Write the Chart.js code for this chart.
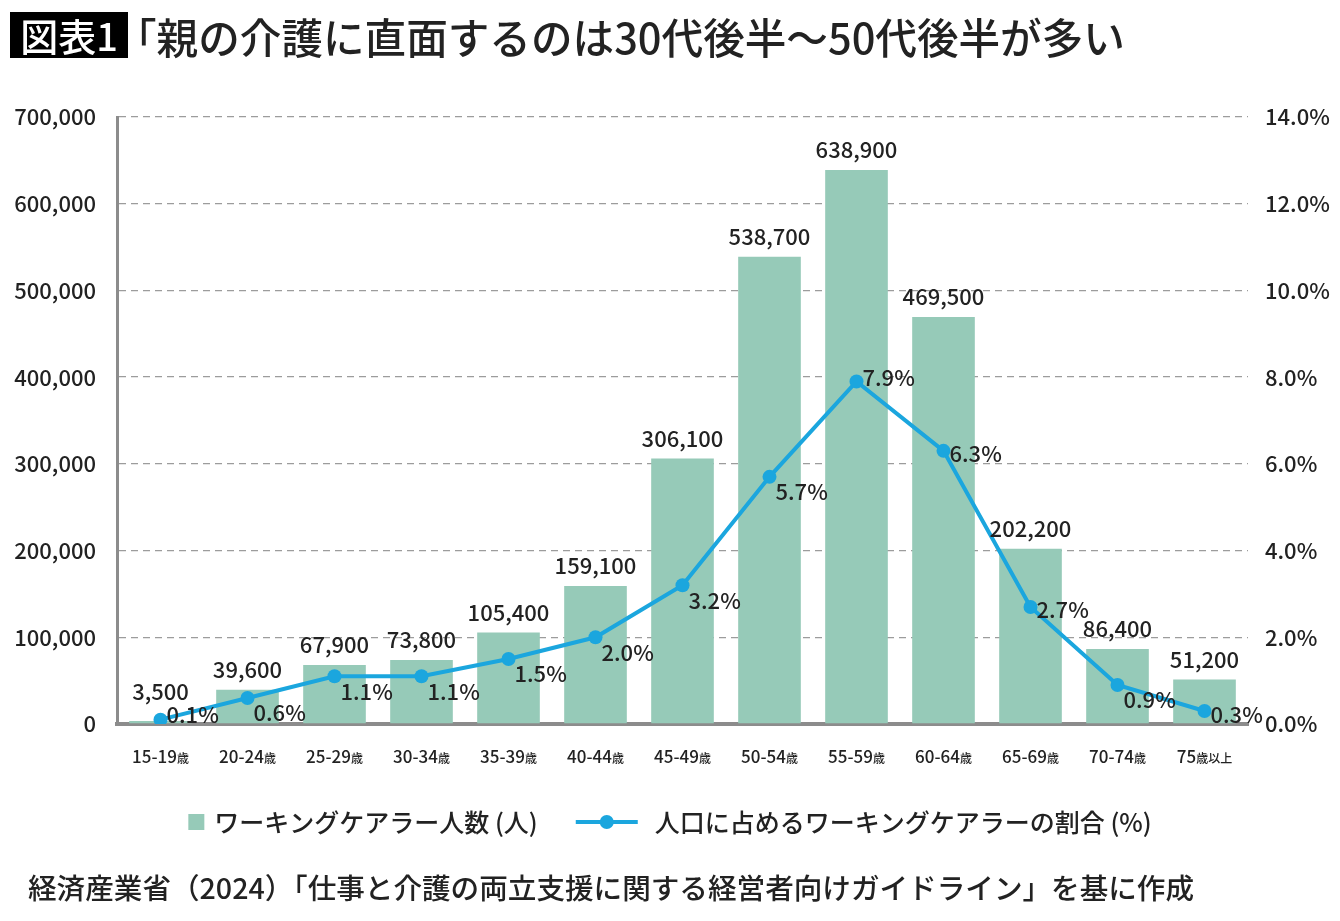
<!DOCTYPE html>
<html lang="ja">
<head>
<meta charset="utf-8">
<script src="https://cdn.jsdelivr.net/npm/chart.js@4.4.1/dist/chart.umd.min.js"></script>
<style>
html, body { margin: 0; padding: 0; background: #fff; }
body { width: 1340px; height: 921px; position: relative; overflow: hidden; font-family: "Noto Sans CJK JP", sans-serif; color: #222; }
#wrap { position: absolute; left: 0; top: 0; width: 1340px; height: 921px; }
#tag { position: absolute; left: 10px; top: 12px; width: 118px; height: 46px; background: #000; color: #fff; font-size: 38px; font-weight: 500; line-height: 46px; text-align: center; }
#title { position: absolute; left: 115px; top: 8px; font-size: 41.6px; font-weight: 500; line-height: 56px; white-space: nowrap; }
#source { position: absolute; left: 28px; top: 867px; font-size: 28.6px; font-weight: 500; line-height: 40px; white-space: nowrap; }
</style>
</head>
<body>
<div id="wrap"><canvas id="careChart"></canvas></div>
<div id="tag">図表1</div>
<div id="title">「親の介護に直面するのは30代後半〜50代後半が多い</div>
<div id="source">経済産業省（2024）「仕事と介護の両立支援に関する経営者向けガイドライン」を基に作成</div>
<script>
// chart data
const ageGroups = ["15-19歳", "20-24歳", "25-29歳", "30-34歳", "35-39歳", "40-44歳", "45-49歳",
  "50-54歳", "55-59歳", "60-64歳", "65-69歳", "70-74歳", "75歳以上"];
const carerCounts = [3500, 39600, 67900, 73800, 105400, 159100, 306100, 538700, 638900, 469500, 202200, 86400, 51200];
const carerShare = [0.1, 0.6, 1.1, 1.1, 1.5, 2.0, 3.2, 5.7, 7.9, 6.3, 2.7, 0.9, 0.3];
const seriesNames = ["ワーキングケアラー人数 (人)", "人口に占めるワーキングケアラーの割合 (%)"];

const barColor = "#96cab8";
const lineColor = "#1ba6de";
const textColor = "#222";
const jpFont = '"Noto Sans CJK JP", sans-serif';

// value labels above bars and beside line points
const valueLabels = {
  id: "valueLabels",
  afterDatasetsDraw(chart) {
    const ctx = chart.ctx;
    const bottom = chart.chartArea.bottom;
    const points = chart.getDatasetMeta(0).data;
    const bars = chart.getDatasetMeta(1).data;
    ctx.save();
    ctx.fillStyle = textColor;
    ctx.font = "500 22px " + jpFont;

    ctx.textAlign = "center";
    ctx.textBaseline = "bottom";
    bars.forEach((bar, i) => {
      const top = Math.min(bar.y, points[i].y - 8);
      ctx.fillText(carerCounts[i].toLocaleString("en-US"), bar.x, top - 9);
    });

    ctx.textAlign = "left";
    ctx.textBaseline = "middle";
    points.forEach((pt, i) => {
      const v = carerShare[i];
      const prev = i > 0 ? carerShare[i - 1] : -1;
      const next = i < carerShare.length - 1 ? carerShare[i + 1] : -1;
      let dy = 15;
      if (v > prev && v > next) dy = -4;
      else if (next >= 0 && v - next > 1) dy = 3;
      const y = Math.min(pt.y + dy, bottom - 9);
      ctx.fillText(v.toFixed(1) + "%", pt.x + 6, y);
    });
    ctx.restore();
  }
};

// category labels: numbers normal size, 歳 smaller
const ageAxisLabels = {
  id: "ageAxisLabels",
  afterDraw(chart) {
    const ctx = chart.ctx;
    const xs = chart.scales.x;
    const y = chart.chartArea.bottom + 39;
    ctx.save();
    ctx.fillStyle = textColor;
    ctx.textBaseline = "alphabetic";
    ctx.textAlign = "left";
    ageGroups.forEach((lab, i) => {
      const m = lab.match(/^([\d-]+)(.*)$/);
      const num = m[1], suffix = m[2];
      ctx.font = "500 17px " + jpFont;
      const wn = ctx.measureText(num).width;
      ctx.font = "500 12px " + jpFont;
      const ws = ctx.measureText(suffix).width;
      const x = xs.getPixelForTick(i) - (wn + ws) / 2;
      ctx.font = "500 17px " + jpFont;
      ctx.fillText(num, x, y);
      ctx.font = "500 12px " + jpFont;
      ctx.fillText(suffix, x + wn, y);
    });
    ctx.restore();
  }
};

// legend drawn under the axis
const bottomLegend = {
  id: "bottomLegend",
  afterDraw(chart) {
    const ctx = chart.ctx;
    const y = 822;
    ctx.save();
    ctx.font = "500 25px " + jpFont;
    const w1 = ctx.measureText(seriesNames[0]).width;
    const w2 = ctx.measureText(seriesNames[1]).width;
    const total = 16 + 10 + w1 + 38 + 62 + 17 + w2;
    let x = chart.width / 2 - total / 2;
    ctx.fillStyle = barColor;
    ctx.fillRect(x, y - 8, 16, 16);
    x += 26;
    ctx.fillStyle = textColor;
    ctx.textBaseline = "middle";
    ctx.textAlign = "left";
    ctx.fillText(seriesNames[0], x, y);
    x += w1 + 38;
    ctx.strokeStyle = lineColor;
    ctx.lineWidth = 4;
    ctx.beginPath();
    ctx.moveTo(x, y);
    ctx.lineTo(x + 62, y);
    ctx.stroke();
    ctx.fillStyle = lineColor;
    ctx.beginPath();
    ctx.arc(x + 31, y, 7, 0, Math.PI * 2);
    ctx.fill();
    x += 62 + 17;
    ctx.fillStyle = textColor;
    ctx.fillText(seriesNames[1], x, y);
    ctx.restore();
  }
};

new Chart(document.getElementById("careChart"), {
  type: "bar",
  data: {
    labels: ageGroups,
    datasets: [
      {
        type: "line",
        label: seriesNames[1],
        data: carerShare,
        yAxisID: "y1",
        borderColor: lineColor,
        backgroundColor: lineColor,
        borderWidth: 4,
        pointRadius: 7,
        pointHoverRadius: 7,
        pointBorderWidth: 0,
        tension: 0,
        order: 0
      },
      {
        type: "bar",
        label: seriesNames[0],
        data: carerCounts,
        yAxisID: "y",
        backgroundColor: barColor,
        barPercentage: 0.72,
        categoryPercentage: 1,
        order: 1
      }
    ]
  },
  options: {
    responsive: true,
    maintainAspectRatio: false,
    animation: false,
    layout: { padding: { top: 117, bottom: 137, left: 0, right: 0 } },
    plugins: {
      legend: { display: false },
      tooltip: { enabled: false }
    },
    scales: {
      x: {
        grid: { display: false },
        border: { display: true, color: "#8c8c8c", width: 4 },
        ticks: { display: false },
        afterFit: s => { s.height = 60; }
      },
      y: {
        position: "left",
        min: 0,
        max: 700000,
        grid: { color: "#9c9c9c", lineWidth: 1.3, drawTicks: false },
        border: { display: true, color: "#8c8c8c", width: 3, dash: [7, 5] },
        ticks: {
          stepSize: 100000,
          padding: 21,
          color: textColor,
          font: { family: jpFont, size: 22, weight: "500" },
          callback: v => v.toLocaleString("en-US")
        },
        afterFit: s => { s.width = 117; }
      },
      y1: {
        position: "right",
        min: 0,
        max: 14,
        grid: { display: false, drawTicks: false },
        border: { display: false },
        ticks: {
          stepSize: 2,
          padding: 17,
          color: textColor,
          font: { family: jpFont, size: 22, weight: "500" },
          callback: v => v.toFixed(1) + "%"
        },
        afterFit: s => { s.width = 92; }
      }
    }
  },
  plugins: [valueLabels, ageAxisLabels, bottomLegend]
});
</script>
</body>
</html>
